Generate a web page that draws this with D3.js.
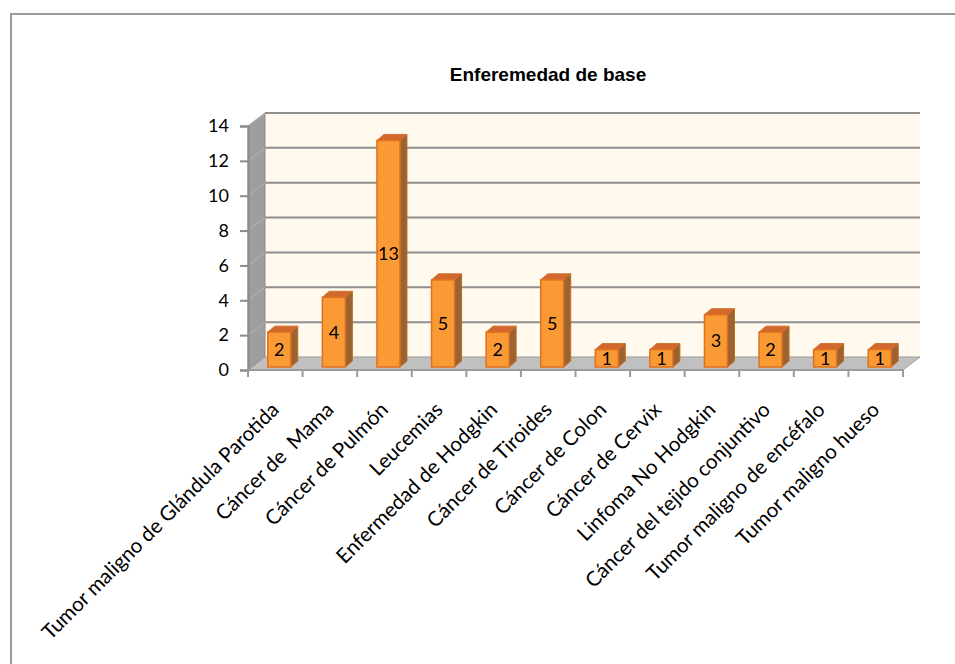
<!DOCTYPE html>
<html lang="es">
<head>
<meta charset="UTF-8">
<title>Enferemedad de base</title>
<script src="https://cdn.jsdelivr.net/npm/d3@7"></script>
<style>
  body { margin: 0; background: #fff; }
  svg { display: block; }
  .cat { font-family: Lato, "Open Sans", sans-serif; font-size: 20.5px; fill: #000; white-space: pre; }
  .ylab { font-family: Lato, "Open Sans", sans-serif; font-size: 18px; fill: #000; }
  .val { font-family: Lato, "Open Sans", sans-serif; font-size: 18px; fill: #000; }
</style>
</head>
<body>
<svg id="chart" width="955" height="664"></svg>
<script>
// data
const categories = [
  "Tumor maligno de Glándula Parotida",
  "Cáncer de  Mama",
  "Cáncer de Pulmón",
  "Leucemias",
  "Enfermedad de Hodgkin",
  "Cáncer de Tiroides",
  "Cáncer de Colon",
  "Cáncer de Cervix",
  "Linfoma No Hodgkin",
  "Cáncer del tejido conjuntivo",
  "Tumor maligno de encéfalo",
  "Tumor maligno hueso"
];
const values = [2, 4, 13, 5, 2, 5, 1, 1, 3, 2, 1, 1];
const yTicks = [0, 2, 4, 6, 8, 10, 12, 14];
const title = "Enferemedad de base";

const svg = d3.select("#chart");

// outer chart border (only top and left visible in the crop)
svg.append("path")
  .attr("d", "M11,664 L11,14 L955,14")
  .attr("fill", "none")
  .attr("stroke", "#9a9a9a")
  .attr("stroke-width", 2);

svg.append("text")
  .attr("x", 548).attr("y", 81)
  .attr("text-anchor", "middle")
  .style("font-family", "Arial, 'Liberation Sans', sans-serif")
  .style("font-weight", "bold")
  .style("font-size", "19px")
  .text(title);

// 3d geometry: depth offset of the walls
const dx = 17, dy = -13;
const x = d3.scaleBand().domain(categories).range([248, 903]).padding(0);
const y = d3.scaleLinear().domain([0, 14]).range([370, 126]);
const yBack = v => y(v) + dy;

const left = 248, right = 903;

// back wall
svg.append("rect")
  .attr("x", left + dx).attr("y", yBack(14))
  .attr("width", right - left).attr("height", yBack(0) - yBack(14))
  .attr("fill", "#fff9ee");

// side wall
svg.append("polygon")
  .attr("points", [[left, y(14)], [left + dx, yBack(14)], [left + dx, yBack(0)], [left, y(0)]].join(" "))
  .attr("fill", "#9e9e9e")
  .attr("stroke", "#8a8a8a")
  .attr("stroke-width", 1);

// floor
svg.append("polygon")
  .attr("points", [[left, y(0)], [left + dx, yBack(0)], [right + dx, yBack(0)], [right, y(0)]].join(" "))
  .attr("fill", "#c0c0c0")
  .attr("stroke", "#9a9a9a")
  .attr("stroke-width", 1);

// gridlines on back wall + side wall
const grid = svg.append("g");
yTicks.filter(t => t > 0).forEach(t => {
  grid.append("line")
    .attr("x1", left + dx).attr("x2", right + dx)
    .attr("y1", yBack(t)).attr("y2", yBack(t))
    .attr("stroke", "#8f8f8f").attr("stroke-width", 2);
  grid.append("line")
    .attr("x1", left).attr("x2", left + dx)
    .attr("y1", y(t)).attr("y2", yBack(t))
    .attr("stroke", "#b5b5b5").attr("stroke-width", 1);
});

// y axis
const yAxis = svg.append("g")
  .attr("transform", `translate(${left},0)`)
  .call(d3.axisLeft(y).tickValues(yTicks).tickSize(8).tickPadding(11));
yAxis.select(".domain").attr("stroke", "#8a8a8a").attr("stroke-width", 2);
yAxis.selectAll(".tick line").attr("stroke", "#8a8a8a").attr("stroke-width", 2);
yAxis.selectAll("text").attr("class", "ylab").attr("font-size", null).attr("font-family", null);
yAxis.attr("font-size", null).attr("font-family", null);

// x axis line and ticks at band edges
const xAxisG = svg.append("g");
xAxisG.append("line")
  .attr("x1", left).attr("x2", right)
  .attr("y1", y(0)).attr("y2", y(0))
  .attr("stroke", "#9a9a9a").attr("stroke-width", 2);
xAxisG.selectAll("line.tk")
  .data(categories.concat([null]))
  .enter().append("line")
  .attr("class", "tk")
  .attr("x1", (d, i) => left + i * x.bandwidth())
  .attr("x2", (d, i) => left + i * x.bandwidth())
  .attr("y1", y(0)).attr("y2", y(0) + 7)
  .attr("stroke", "#9a9a9a").attr("stroke-width", 2);

// bars
const barW = 23, bdx = 7, bdy = -6, zx = 4, zy = -3;
const bars = svg.append("g").selectAll("g")
  .data(categories.map((c, i) => ({ c, v: values[i] })))
  .enter().append("g");

const fx = d => x(d.c) + x.bandwidth() / 2 + zx - barW / 2;

// side face
bars.append("polygon")
  .attr("points", d => {
    const x0 = fx(d) + barW, top = y(d.v) + zy, bot = y(0) + zy;
    return [[x0, top], [x0 + bdx, top + bdy], [x0 + bdx, bot + bdy], [x0, bot]].join(" ");
  })
  .attr("fill", "#9b6331")
  .attr("stroke", "#c46a22").attr("stroke-width", 1);

// top face
bars.append("polygon")
  .attr("points", d => {
    const x0 = fx(d), top = y(d.v) + zy;
    return [[x0, top], [x0 + bdx, top + bdy], [x0 + barW + bdx, top + bdy], [x0 + barW, top]].join(" ");
  })
  .attr("fill", "#d2682e")
  .attr("stroke", "#d0702a").attr("stroke-width", 1);

// front face
bars.append("rect")
  .attr("x", fx)
  .attr("y", d => y(d.v) + zy)
  .attr("width", barW)
  .attr("height", d => y(0) - y(d.v))
  .attr("fill", "#f99a35")
  .attr("stroke", "#e0701e").attr("stroke-width", 1.5);

// value labels
bars.append("text")
  .attr("class", "val")
  .attr("x", d => fx(d) + barW / 2)
  .attr("y", d => (y(d.v) + y(0)) / 2 + zy)
  .attr("dy", "0.36em")
  .attr("text-anchor", "middle")
  .text(d => d.v);

// rotated category labels
svg.append("g").selectAll("text")
  .data(categories)
  .enter().append("text")
  .attr("class", "cat")
  .attr("text-anchor", "end")
  .attr("transform", d => `translate(${x(d) + x.bandwidth() / 2 + 5},${y(0) + 41}) rotate(-45)`)
  .text(d => d);
</script>
</body>
</html>
